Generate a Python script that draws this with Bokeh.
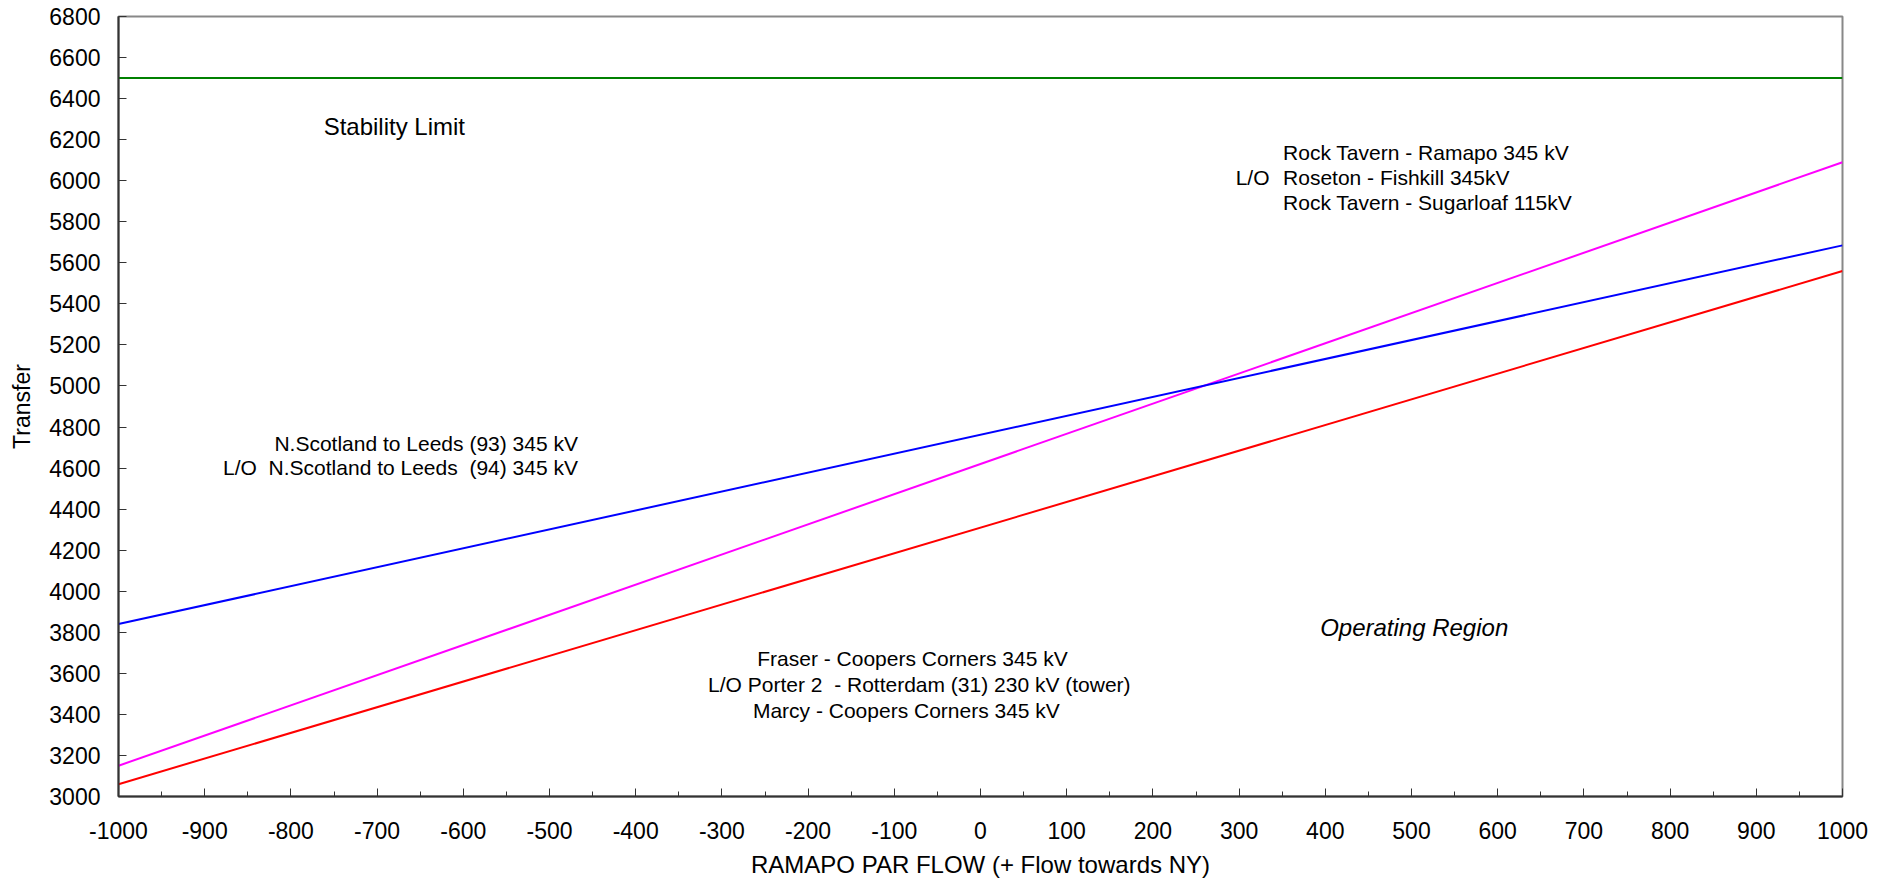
from bokeh.plotting import figure
from bokeh.models import Range1d, SingleIntervalTicker, ColumnDataSource, CustomJSTickFormatter
from bokeh.core.properties import value
from bokeh.embed import file_html
from bokeh.resources import INLINE

# ---- data ----
ramapo_flow = [-1000, 1000]
stability_limit = [6500, 6500]
rock_tavern_limit = [3150, 6090]     # magenta
n_scotland_limit = [3840, 5685]      # blue
fraser_limit = [3060, 5560]          # red

x_range_vals = [-1000, 1000]
y_range_vals = [3000, 6800]

NB = "\u00a0"
# ---- annotations (text, x, y, align) ----
ann_text = [
    "Rock Tavern - Ramapo 345 kV",
    "L/O",
    "Roseton - Fishkill 345kV",
    "Rock Tavern - Sugarloaf 115kV",
    "N.Scotland to Leeds (93) 345 kV",
    "L/O" + NB + " N.Scotland to Leeds" + NB + " (94) 345 kV",
    "Fraser - Coopers Corners 345 kV",
    "L/O Porter 2" + NB + " - Rotterdam (31) 230 kV (tower)",
    "Marcy - Coopers Corners 345 kV",
]
ann_x = [351, 296, 351, 351, -467, -467, -259, -316, -264]
ann_y = [6137, 6017, 6017, 5895, 4722, 4605, 3671, 3545, 3421]
ann_align = ["left", "left", "left", "left", "right", "right", "left", "left", "left"]

FONT = "Liberation Sans"

p = figure(width=1885, height=884, output_backend="svg", toolbar_location=None,
           x_range=Range1d(*x_range_vals), y_range=Range1d(*y_range_vals),
           min_border_left=118, min_border_right=43, min_border_top=16, min_border_bottom=88)

p.xgrid.visible = False
p.ygrid.visible = False
p.outline_line_color = "#888888"
p.outline_line_width = 2
p.background_fill_color = "white"
p.border_fill_color = "white"

fmt = CustomJSTickFormatter(code="return String(Math.round(tick));")

# axes
xa = p.xaxis[0]
xa.ticker = SingleIntervalTicker(interval=100, num_minor_ticks=2)
xa.formatter = fmt
xa.major_tick_in = 8
xa.major_tick_out = 0
xa.minor_tick_in = 5
xa.minor_tick_out = 0
xa.axis_line_color = "#333333"
xa.axis_line_width = 2
xa.major_tick_line_color = "#333333"
xa.minor_tick_line_color = "#333333"
xa.major_label_text_font = FONT
xa.major_label_text_font_size = "23px"
xa.major_label_text_color = "black"
xa.major_label_standoff = 25
xa.axis_label = "RAMAPO PAR FLOW (+ Flow towards NY)"
xa.axis_label_text_font = FONT
xa.axis_label_text_font_size = "24px"
xa.axis_label_text_font_style = "normal"
xa.axis_label_text_color = "black"
xa.axis_label_standoff = 9

ya = p.yaxis[0]
ya.ticker = SingleIntervalTicker(interval=200, num_minor_ticks=0)
ya.formatter = fmt
ya.major_tick_in = 8
ya.major_tick_out = 0
ya.minor_tick_in = 0
ya.minor_tick_out = 0
ya.axis_line_color = "#333333"
ya.axis_line_width = 2
ya.major_tick_line_color = "#333333"
ya.major_label_text_font = FONT
ya.major_label_text_font_size = "23px"
ya.major_label_text_color = "black"
ya.major_label_standoff = 18
ya.axis_label = "Transfer"
ya.axis_label_text_font = FONT
ya.axis_label_text_font_size = "23px"
ya.axis_label_text_font_style = "normal"
ya.axis_label_text_color = "black"
ya.axis_label_standoff = 11

# lines
p.line(ramapo_flow, stability_limit, line_color="#008000", line_width=2)
p.line(ramapo_flow, rock_tavern_limit, line_color="#ff00ff", line_width=2)
p.line(ramapo_flow, n_scotland_limit, line_color="#0000ff", line_width=2)
p.line(ramapo_flow, fraser_limit, line_color="#ff0000", line_width=2)

src = ColumnDataSource(dict(x=ann_x, y=ann_y, text=ann_text, align=ann_align))
p.text(x="x", y="y", text="text", text_align="align", source=src,
       text_font=value(FONT), text_font_size="21px", text_baseline="middle", text_color="black")

p.text(x=[-762], y=[6264], text=["Stability Limit"], text_font=value(FONT),
       text_font_size="24px", text_baseline="middle", text_color="black")

p.text(x=[394], y=[3821], text=["Operating Region"], text_font=value(FONT),
       text_font_size="24px", text_font_style="italic", text_baseline="middle", text_color="black")

open("out.html", "w").write(file_html(p, INLINE))
